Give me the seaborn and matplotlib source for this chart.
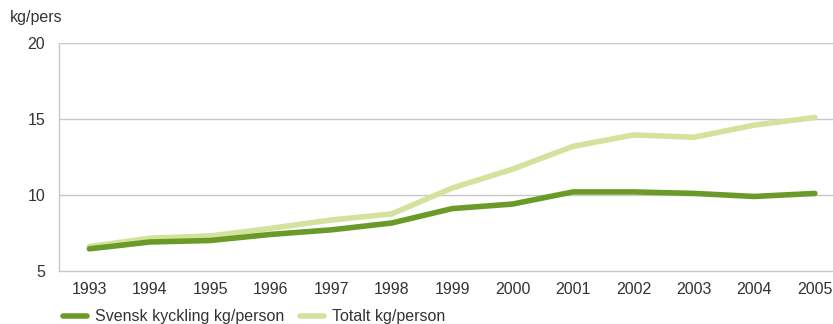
import matplotlib
matplotlib.use("Agg")
import matplotlib.pyplot as plt
import seaborn as sns
import pandas as pd
from matplotlib.lines import Line2D

# data
years = [1993, 1994, 1995, 1996, 1997, 1998, 1999, 2000, 2001, 2002, 2003, 2004, 2005]
svensk = [6.45, 6.9, 7.0, 7.4, 7.7, 8.15, 9.1, 9.4, 10.2, 10.2, 10.1, 9.9, 10.1]
totalt = [6.6, 7.15, 7.3, 7.8, 8.35, 8.75, 10.45, 11.7, 13.2, 13.95, 13.8, 14.6, 15.1]
series_names = ["Svensk kyckling kg/person", "Totalt kg/person"]
colors = ["#6a9a27", "#d3e29d"]

df = pd.DataFrame({"Year": years, series_names[0]: svensk, series_names[1]: totalt})
long_df = df.melt(id_vars="Year", var_name="Serie", value_name="kg")

sns.set_style("white")
plt.rcParams["font.family"] = ["Liberation Sans", "DejaVu Sans"]

fig = plt.figure(figsize=(8.33, 3.24), dpi=100)
ax = fig.add_axes([0.071, 0.164, 0.929, 0.703])

# gridlines behind the lines
for y in [10, 15, 20]:
    ax.axhline(y, color="#c8c8c8", lw=1.0, zorder=0)

sns.lineplot(data=long_df, x="Year", y="kg", hue="Serie", hue_order=series_names[::-1],
             palette=colors[::-1], lw=4.0, ax=ax, legend=False,
             solid_capstyle="round")

ax.set_xlim(1992.5, 2005.3)
ax.set_ylim(5, 20)
ax.set_yticks([5, 10, 15, 20])
ax.set_xticks(years)
ax.tick_params(axis="both", length=0, labelsize=11.5, colors="#333333")
ax.tick_params(axis="x", pad=8)
ax.tick_params(axis="y", pad=10)
ax.set_xlabel("")
ax.set_ylabel("")
for side in ["top", "right"]:
    ax.spines[side].set_visible(False)
for side in ["left", "bottom"]:
    ax.spines[side].set_color("#c8c8c8")
    ax.spines[side].set_linewidth(1.0)

fig.text(0.012, 0.945, "kg/pers", fontsize=11.5, color="#333333", va="center")

# legend at the bottom, partly cut off like in the reference
handles = [Line2D([0], [0], color=c, lw=4.0, solid_capstyle="round") for c in colors]
leg = fig.legend(handles, series_names, loc="lower left", bbox_to_anchor=(0.058, -0.045),
                 ncol=2, frameon=False, fontsize=11.5, handlelength=1.5, handletextpad=0.5,
                 columnspacing=1.0, labelcolor="#333333")

fig.savefig("out.png", dpi=100)
